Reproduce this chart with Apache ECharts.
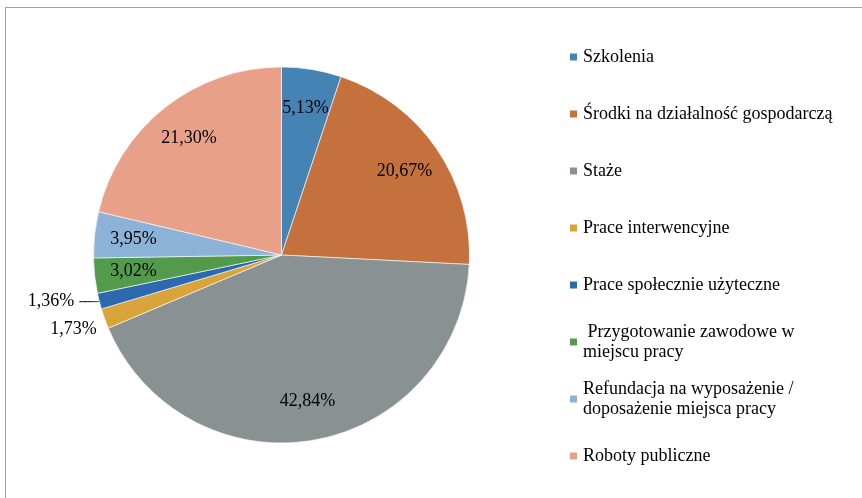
<!DOCTYPE html>
<html>
<head>
<meta charset="utf-8">
<script src="https://cdn.jsdelivr.net/npm/echarts@6/dist/echarts.min.js"></script>
<style>
  html, body { margin: 0; padding: 0; background: #fff; }
  #wrap { position: relative; width: 862px; height: 498px; }
  #frame {
    position: absolute; left: 5px; top: 7px; right: 0; bottom: 0;
    border-top: 1.5px solid #a0a0a0; border-left: 1.5px solid #a0a0a0;
  }
  #chart { position: absolute; left: 0; top: 0; width: 862px; height: 498px; }
</style>
</head>
<body>
<div id="wrap">
  <div id="frame"></div>
  <div id="chart"></div>
</div>
<script>
const categories = [
  'Szkolenia',
  'Środki na działalność gospodarczą',
  'Staże',
  'Prace interwencyjne',
  'Prace społecznie użyteczne',
  ' Przygotowanie zawodowe w\nmiejscu pracy',
  'Refundacja na wyposażenie /\ndoposażenie miejsca pracy',
  'Roboty publiczne'
]
const shares = [5.13, 20.67, 42.84, 1.73, 1.36, 3.02, 3.95, 21.30]
const colors = ['#4683b5', '#c5713d', '#8a9192', '#d9a53a', '#2c69ae', '#529a4c', '#8cb2d8', '#e8a088']
// slices whose label sits outside the pie (dropLine: label pushed one line lower)
const outsideLabels = {
  'Prace interwencyjne': { length: 3, length2: 0, line: false, dropLine: true },
  'Prace społecznie użyteczne': { length: 2, length2: 18, line: true, dropLine: false }
}

const font = '"Liberation Serif", "Times New Roman", serif'
const lineH = 20

const chart = echarts.init(document.getElementById('chart'))

const fmtPct = (v) => v.toFixed(2).replace('.', ',') + '%'

const legendData = categories.map(name => {
  const twoLines = name.indexOf('\n') >= 0
  return {
    name: name,
    textStyle: {
      padding: twoLines ? [lineH, 0, 0, 0] : [lineH, 0, lineH, 0]
    }
  }
})

const labelData = categories.map((name, i) => {
  const out = outsideLabels[name]
  const item = { name: name, value: shares[i] }
  if (out) {
    item.label = {
      show: true,
      position: 'outside',
      lineHeight: 20,
      formatter: (p) => (out.dropLine ? '\n' : '') + fmtPct(p.value)
    }
    item.labelLine = {
      show: out.line,
      length: out.length,
      length2: out.length2,
      smooth: 0.3,
      lineStyle: { color: '#000', width: 1 }
    }
  } else {
    item.label = { show: true, position: 'inside' }
  }
  return item
})

const option = {
  animation: false,
  color: colors,
  legend: {
    orient: 'vertical',
    left: 568,
    top: 27,
    padding: 0,
    itemGap: -3,
    icon: 'rect',
    itemWidth: 9,
    itemHeight: 9,
    selectedMode: false,
    data: legendData,
    textStyle: {
      fontFamily: font,
      fontSize: 18,
      lineHeight: lineH,
      color: '#000',
      backgroundColor: 'rgba(0,0,0,0)'
    }
  },
  series: [
    {
      name: 'slices',
      type: 'pie',
      center: [281.5, 255],
      radius: [0, 188],
      startAngle: 90,
      clockwise: true,
      silent: true,
      label: { show: false },
      labelLine: { show: false },
      itemStyle: { borderColor: '#fff', borderWidth: 0.6 },
      data: categories.map((name, i) => ({ name: name, value: shares[i] }))
    },
    {
      name: 'labels',
      type: 'pie',
      center: [281.5, 255],
      radius: [104, 188],
      startAngle: 90,
      clockwise: true,
      silent: true,
      avoidLabelOverlap: false,
      labelLayout: { hideOverlap: false },
      itemStyle: { color: 'rgba(0,0,0,0)', borderWidth: 0 },
      label: {
        fontFamily: font,
        fontSize: 18,
        color: '#000',
        distanceToLabelLine: 5,
        formatter: (p) => fmtPct(p.value)
      },
      data: labelData
    }
  ]
}

chart.setOption(option)
</script>
</body>
</html>
